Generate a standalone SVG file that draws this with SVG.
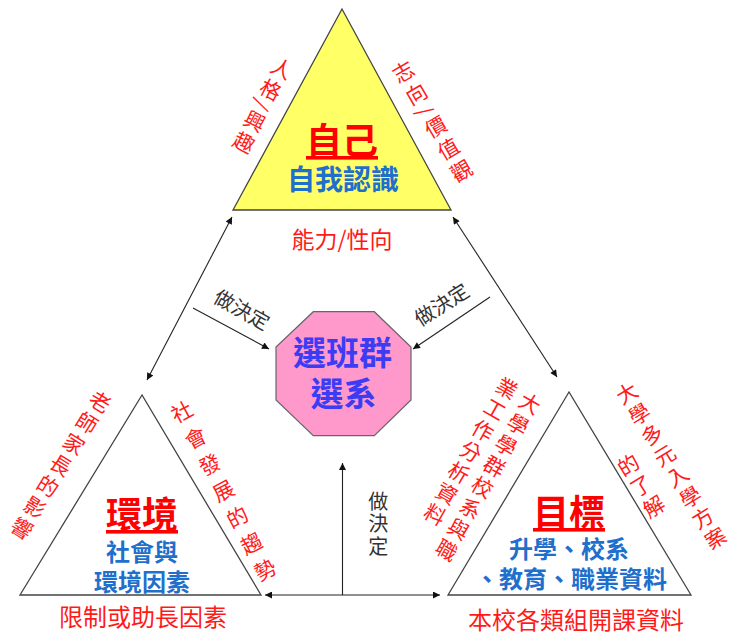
<svg xmlns="http://www.w3.org/2000/svg" width="729" height="633" viewBox="0 0 729 633">
<defs>
<marker id="ah" viewBox="0 0 10 10" refX="10" refY="5" markerUnits="userSpaceOnUse" markerWidth="9" markerHeight="7" orient="auto-start-reverse">
<path d="M0,0 L10,5 L0,10 z" fill="#111"/>
</marker>
<style>
text{font-family:"Noto Sans CJK TC","Noto Sans CJK SC",sans-serif}
.tri{stroke:#444;stroke-width:1.3}
.title{fill:#FF0000;font-weight:bold;font-size:36px;text-anchor:middle;text-decoration:underline}
.sub{fill:#1F6FCC;font-weight:bold;font-size:24px;text-anchor:middle}
.red{fill:#FF1A1A;font-size:24px;text-anchor:middle}
.vr{fill:#FF1A1A;font-size:21px;writing-mode:vertical-rl}
.dec{fill:#333;font-size:20px;text-anchor:middle}
.conn{stroke:#222;stroke-width:1.1;fill:none}
</style>
</defs>
<rect width="729" height="633" fill="#fff"/>

<g id="connectors">
<path class="conn" d="M147,380 L232,217" marker-start="url(#ah)" marker-end="url(#ah)"/>
<path class="conn" d="M453,217 L557,377" marker-start="url(#ah)" marker-end="url(#ah)"/>
<path class="conn" d="M265,595 L440,595" marker-start="url(#ah)" marker-end="url(#ah)"/>
<path class="conn" d="M342.5,595 L342.5,463" marker-end="url(#ah)"/>
<path class="conn" d="M193,308 L269,349" marker-end="url(#ah)"/>
<path class="conn" d="M490,297 L413,349" marker-end="url(#ah)"/>
<text class="dec" transform="translate(241.7,310) rotate(29.3)" y="7">做決定</text>
<text class="dec" transform="translate(441.7,305) rotate(-32.6)" y="7">做決定</text>
<text class="dec" style="writing-mode:vertical-rl;text-anchor:start;letter-spacing:2.5px" x="378.3" y="491">做決定</text>
</g>

<g id="self">
<polygon class="tri" points="342,9 233,210 451,210" fill="#FFFF66"/>
<text class="title" x="342" y="154">自己</text>
<text class="sub" x="343" y="190" style="font-size:28px">自我認識</text>
<text class="red" x="342" y="248" style="font-size:23px">能力/性向</text>
<text class="vr" transform="translate(281.7,68.3) rotate(27)" y="-10.5" style="letter-spacing:3px">人格/興趣</text>
<text class="vr" transform="translate(403.3,71.7) rotate(-30.3)" y="-10.5" style="letter-spacing:4.5px">志向/價值觀</text>
</g>

<g id="environment">
<polygon class="tri" points="142,395 20,595 261,595" fill="#fff"/>
<text class="title" x="142" y="528">環境</text>
<text class="sub" x="142" y="561">社會與</text>
<text class="sub" x="142" y="591">環境因素</text>
<text class="red" x="143" y="626">限制或助長因素</text>
<text class="vr" transform="translate(100,401.7) rotate(31.7)" y="-10.5" style="letter-spacing:3.8px">老師家長的影響</text>
<text class="vr" transform="translate(181.7,411.7) rotate(-27.8)" y="-10.5" style="letter-spacing:8.8px">社會發展的趨勢</text>
</g>

<g id="goal">
<polygon class="tri" points="569,392 448,595 691,595" fill="#fff"/>
<text class="title" x="569" y="526">目標</text>
<text class="sub" x="569" y="558">升學、校系</text>
<text class="sub" x="571" y="588">、教育、職業資料</text>
<text class="red" x="576" y="629">本校各類組開課資料</text>
<text class="vr" transform="translate(530,403.3) rotate(29.6)" y="-10.5" style="letter-spacing:3.1px">大學學群校系與職</text>
<text class="vr" transform="translate(506.7,388.3) rotate(29.6)" y="-10.5" style="letter-spacing:3.2px">業工作分析資料</text>
<text class="vr" transform="translate(626.7,393.3) rotate(-31.5)" y="-10.5" style="letter-spacing:3.3px">大學多元入學方案</text>
<text class="vr" transform="translate(628.3,465) rotate(-31.5)" y="-10.5" style="letter-spacing:3.3px">的了解</text>
</g>

<g id="choice">
<polygon points="313.3,311.7 374.3,311.7 411,347 411,400 374.3,435.7 313.3,435.7 276,400 276,347" fill="#FF99CC" stroke="#666" stroke-width="1.2"/>
<text x="342.5" y="365" style="fill:#3C3CF5;font-weight:bold;font-size:33px;text-anchor:middle">選班群</text>
<text x="343.5" y="406" style="fill:#3C3CF5;font-weight:bold;font-size:33px;text-anchor:middle">選系</text>
</g>
</svg>
